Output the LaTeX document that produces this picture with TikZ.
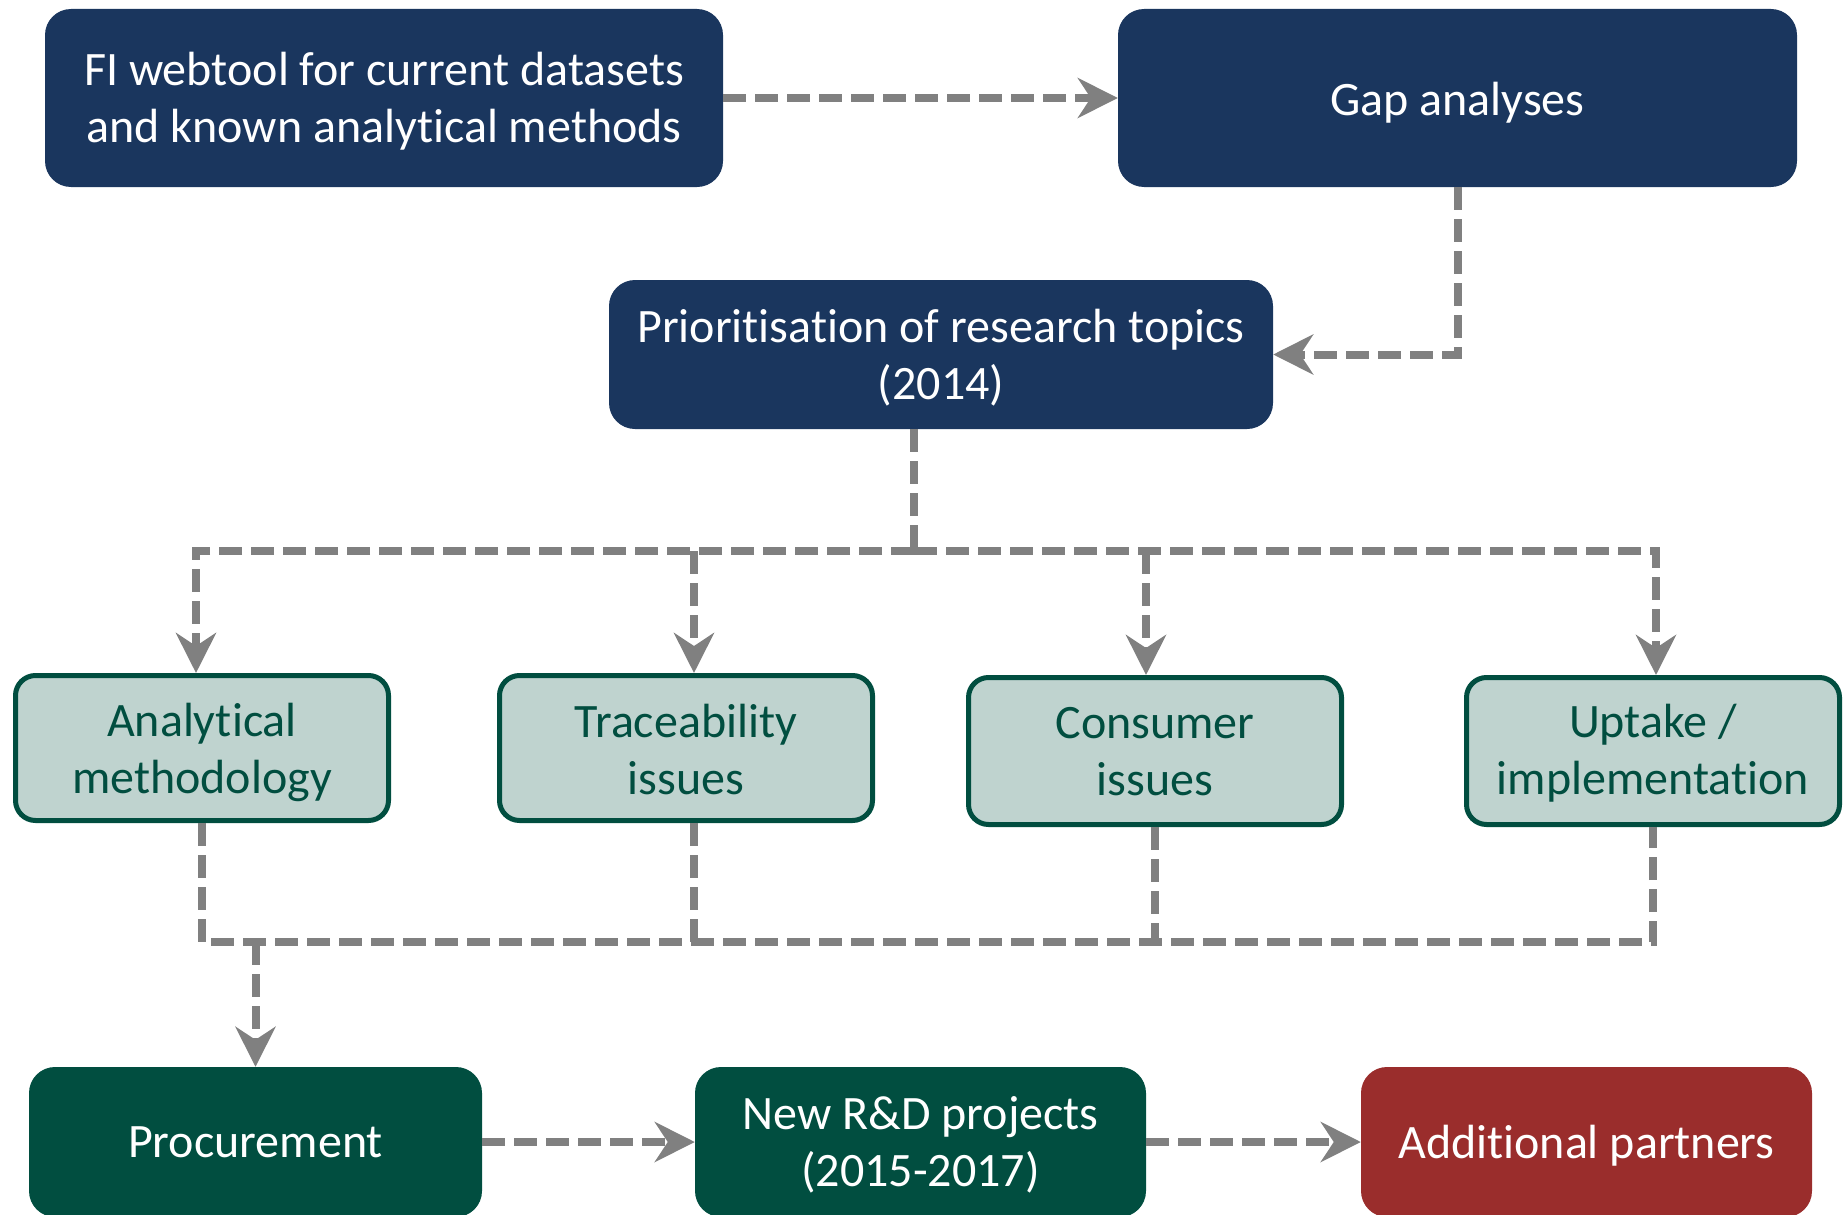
\documentclass[tikz,border=0pt]{standalone}
\usepackage{fontspec}
\setmainfont{Carlito}[Ligatures=NoCommon]
\usetikzlibrary{arrows.meta,calc}
\definecolor{navy}{HTML}{1A365E}
\definecolor{dgreen}{HTML}{014E40}
\definecolor{lgreen}{HTML}{BFD3CF}
\definecolor{dred}{HTML}{9A2D2C}
\definecolor{lgray}{HTML}{808080}
\newcommand\lift[1]{\rule{0pt}{\dimexpr\fontcharht\font`l+#1pt\relax}}
\tikzset{
  box/.style={rectangle, rounded corners=26pt, inner sep=0pt, align=center,
    font=\fontsize{48}{57}\selectfont},
  bluebox/.style={box, fill=navy, text=white},
  greenbox/.style={box, fill=dgreen, text=white},
  redbox/.style={box, fill=dred, text=white},
  topicbox/.style={box, rounded corners=20pt, fill=lgreen, draw=dgreen, line width=5pt, text=dgreen},
  conn/.style={draw=lgray, line width=8pt, dash pattern=on 23pt off 9pt},
  arr/.style={conn, -{Stealth[length=40pt, width=40pt, inset=13pt]}}
}
\begin{document}
\begin{tikzpicture}[x=1pt,y=-1pt]
\useasboundingbox (0,0) rectangle (1847,1215);
\node[bluebox, minimum width=678pt, minimum height=178pt] (fi) at (384,98) {\lift{7}FI webtool for current datasets\\and known analytical methods};
\node[bluebox, minimum width=679pt, minimum height=178pt] (gap) at (1457.5,98) {\lift{9}Gap analyses};
\node[bluebox, minimum width=664pt, minimum height=149pt] (prio) at (941,354.5) {\lift{7}Prioritisation of research topics\\(2014)};
\node[topicbox, minimum width=373pt, minimum height=145pt] (ana) at (202,748) {\lift{9}Analytical\\methodology};
\node[topicbox, minimum width=373pt, minimum height=145pt] (tra) at (686,748) {\lift{2.5}Traceability\\issues};
\node[topicbox, minimum width=373pt, minimum height=147pt] (con) at (1155,751) {\lift{0}Consumer\\issues};
\node[topicbox, minimum width=373pt, minimum height=147pt] (upt) at (1653,751) {\lift{5}Uptake /\\implementation};
\node[greenbox, minimum width=453pt, minimum height=150pt] (proc) at (255.5,1142) {Procurement};
\node[greenbox, minimum width=451pt, minimum height=150pt] (rd) at (920.5,1142) {\lift{5}New R\&D projects\\(2015-2017)};
\node[redbox, minimum width=451pt, minimum height=150pt] (add) at (1586.5,1142) {\lift{7}Additional partners};
\coordinate (split) at (914,551);
\coordinate (bus) at (0,942);
% top row
\draw[arr] (fi.east) -- (gap.west);
\draw[arr] (gap.south) |- (prio.east);
% fan out
\draw[conn] (prio.south -| split) -- (split);
\draw[arr] (split) -| ([xshift=-6pt]ana.north);
\draw[arr] (split) -| ([xshift=3pt]upt.north);
\draw[arr] ([xshift=8pt]tra.north |- split) -- ([xshift=8pt]tra.north);
\draw[arr] ([xshift=-9pt]con.north |- split) -- ([xshift=-9pt]con.north);
% merge
\draw[conn] (ana.south) -- (ana.south |- bus) -- (upt.south |- bus) -- (upt.south);
\draw[conn] ([xshift=8pt]tra.south) -- ([xshift=8pt]tra.south |- bus);
\draw[conn] (con.south) -- (con.south |- bus);
\draw[arr] (proc.north |- bus) -- (proc.north);
% bottom row
\draw[arr] (proc.east) -- (rd.west);
\draw[arr] (rd.east) -- (add.west);
\end{tikzpicture}
\end{document}
